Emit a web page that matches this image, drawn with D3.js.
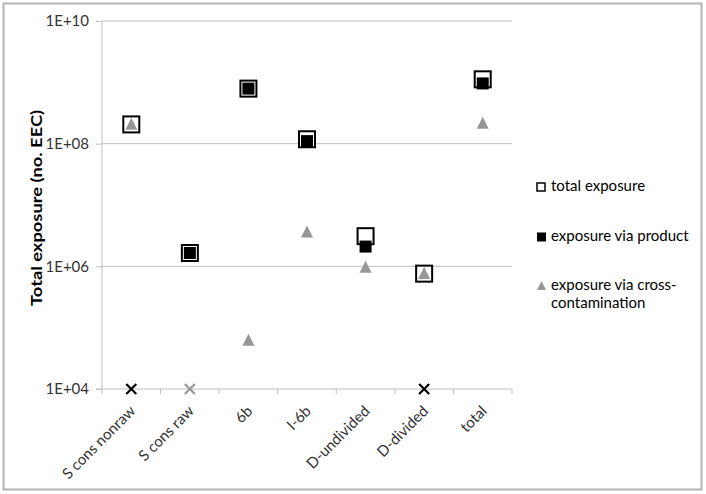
<!DOCTYPE html>
<html><head><meta charset="utf-8">
<script src="https://cdn.jsdelivr.net/npm/d3@7"></script>
<style>
body{margin:0;background:#fff;}
svg{font-family:Lato,"Liberation Sans",Arial,sans-serif;}
</style></head>
<body><svg id="c" width="706" height="494"></svg>
<script>
const categories = ["S cons nonraw","S cons raw","6b","I-6b","D-undivided","D-divided","total"];
// null = zero (drawn as X at the axis floor)
const totalExposure   = [2.06e8, 1.65e6, 7.9e8, 1.18e8, 3.1e6, 7.6e5, 1.12e9];
const viaProduct      = [null,   1.65e6, 7.9e8, 1.1e8,  2.1e6, null,  9.6e8];
const viaCrossContam  = [2.06e8, null,   6.2e4, 3.6e6,  9.6e5, 7.6e5, 2.14e8];
const yTicks = [1e4, 1e6, 1e8, 1e10];
const yTickLabels = ["1E+04","1E+06","1E+08","1E+10"];
const seriesNames = ["total exposure","exposure via product","exposure via cross-contamination"];

const FONT = "Lato, 'Liberation Sans', Arial, sans-serif";
const FS = 15;
const svg = d3.select("#c");
const L = 102, R = 512, T = 21, B = 389;
const x = d3.scaleBand().domain(categories).range([L, R]);
const y = d3.scaleLog().domain([1e4, 1e10]).range([B, T]);

// outer border
svg.append("rect").attr("x",3.5).attr("y",3.5).attr("width",698).attr("height",486)
  .attr("fill","#fff").attr("stroke","#b3b3b3").attr("stroke-width",2);

// gridlines
svg.append("g").selectAll("line").data(yTicks.slice(1)).join("line")
  .attr("x1",L).attr("x2",R).attr("y1",d=>y(d)).attr("y2",d=>y(d))
  .attr("stroke","#bfbfbf").attr("stroke-width",1);

// y axis
const yAxis = d3.axisLeft(y).tickValues(yTicks).tickFormat((d,i)=>yTickLabels[i]).tickSize(6).tickPadding(7);
const gy = svg.append("g").attr("transform",`translate(${L},0)`).call(yAxis);
gy.select(".domain").attr("stroke","#bfbfbf").attr("d",`M0,${T}V${B}`);
gy.selectAll(".tick line").attr("stroke","#bfbfbf");
gy.selectAll(".tick text").attr("font-size",FS).attr("fill","#333").attr("font-family",FONT);

// x axis
const xAxis = d3.axisBottom(x).tickSize(0).tickFormat(d=>d);
const gx = svg.append("g").attr("transform",`translate(0,${B})`).call(xAxis);
gx.select(".domain").attr("stroke","#bfbfbf").attr("d",`M${L-6},0H${R}`);
// category boundary ticks
const bounds = categories.map(c=>x(c)).concat([R]);
svg.append("g").selectAll("line").data(bounds).join("line")
  .attr("x1",d=>d).attr("x2",d=>d).attr("y1",B).attr("y2",B+5)
  .attr("stroke","#bfbfbf");
gx.selectAll(".tick text")
  .attr("font-size",FS).attr("fill","#333").attr("font-family",FONT)
  .attr("text-anchor","end").attr("dy",null).attr("y",0)
  .attr("transform","translate(5,23) rotate(-45)");

// y title
svg.append("text").attr("transform","translate(38,208) rotate(-90)")
  .attr("text-anchor","middle").attr("dominant-baseline","middle")
  .attr("font-size",16).attr("font-weight","bold").attr("fill","#000")
  .attr("textLength",196).attr("lengthAdjust","spacingAndGlyphs")
  .text("Total exposure (no. EEC)");

const cx = c => x(c) + x.bandwidth()/2;
const floorY = y(1e4);
const plot = svg.append("g");

function cross(g, px, py, color){
  const s=5;
  g.append("path").attr("d",`M${px-s},${py-s}L${px+s},${py+s}M${px-s},${py+s}L${px+s},${py-s}`)
   .attr("stroke",color).attr("stroke-width",2.2).attr("fill","none");
}
const triPath = (px,py,w) => `M${px},${py-w*0.55}L${px+w/2},${py+w*0.45}L${px-w/2},${py+w*0.45}Z`;

// total exposure: open squares
categories.forEach((c,i)=>{
  const v = totalExposure[i];
  if(v==null) return;
  plot.append("rect").attr("x",cx(c)-8).attr("y",y(v)-8).attr("width",16).attr("height",16)
    .attr("fill","#fff").attr("stroke","#000").attr("stroke-width",2);
});
// product: filled black squares
categories.forEach((c,i)=>{
  const v = viaProduct[i];
  if(v==null){ cross(plot, cx(c), floorY, "#000"); return; }
  plot.append("rect").attr("x",cx(c)-6).attr("y",y(v)-6).attr("width",12).attr("height",12)
    .attr("fill","#000");
});
// cross contamination: grey triangles
categories.forEach((c,i)=>{
  const v = viaCrossContam[i];
  if(v==null){ cross(plot, cx(c), floorY, "#969696"); return; }
  plot.append("path").attr("d",triPath(cx(c),y(v),12)).attr("fill","#969696");
});

// legend
const lg = svg.append("g").attr("font-size",FS).attr("fill","#000").attr("font-family",FONT);
const ly = [187, 237, 286];
lg.append("rect").attr("x",537).attr("y",ly[0]-4).attr("width",8).attr("height",8)
  .attr("fill","#fff").attr("stroke","#000").attr("stroke-width",1.5);
lg.append("rect").attr("x",537).attr("y",ly[1]-4.5).attr("width",9).attr("height",9).attr("fill","#000");
lg.append("path").attr("d",triPath(541.5,ly[2],9)).attr("fill","#969696");
lg.append("text").attr("x",551).attr("y",ly[0]).attr("dominant-baseline","middle").text(seriesNames[0]);
lg.append("text").attr("x",551).attr("y",ly[1]).attr("dominant-baseline","middle").text(seriesNames[1]);
lg.append("text").attr("x",551).attr("y",ly[2]).attr("dominant-baseline","middle").text("exposure via cross-");
lg.append("text").attr("x",551).attr("y",ly[2]+18).attr("dominant-baseline","middle").text("contamination");
</script></body></html>
